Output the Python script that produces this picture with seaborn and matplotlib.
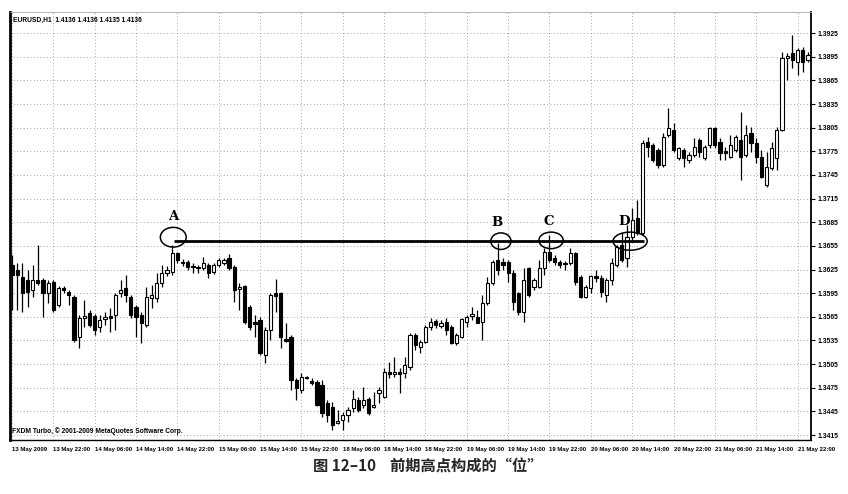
import numpy as np
import matplotlib
matplotlib.use("Agg")
import matplotlib.pyplot as plt
from matplotlib.patches import Ellipse
import seaborn as sns

# ---------------- data (EURUSD H1) ----------------
opens = [1.3631, 1.3624, 1.3616, 1.3612, 1.3599, 1.3612, 1.3612, 1.3595, 1.3609, 1.3580,
         1.3602, 1.3597, 1.3590, 1.3539, 1.3563, 1.3570, 1.3566, 1.3552, 1.3562, 1.3566,
         1.3567, 1.3595, 1.3602, 1.3590, 1.3577, 1.3567, 1.3555, 1.3589, 1.3589, 1.3608,
         1.3621, 1.3622, 1.3646, 1.3635, 1.3635, 1.3629, 1.3627, 1.3627, 1.3631, 1.3622,
         1.3631, 1.3633, 1.3640, 1.3628, 1.3600, 1.3604, 1.3577, 1.3558, 1.3561, 1.3517,
         1.3548, 1.3595, 1.3595, 1.3537, 1.3539, 1.3485, 1.3472, 1.3487, 1.3484, 1.3482,
         1.3478, 1.3456, 1.3451, 1.3430, 1.3434, 1.3440, 1.3449, 1.3459, 1.3453, 1.3461,
         1.3451, 1.3468, 1.3463, 1.3495, 1.3492, 1.3495, 1.3494, 1.3501, 1.3542, 1.3527,
         1.3533, 1.3552, 1.3560, 1.3553, 1.3558, 1.3552, 1.3532, 1.3539, 1.3558, 1.3566,
         1.3565, 1.3558, 1.3583, 1.3608, 1.3637, 1.3635, 1.3635, 1.3621, 1.3595, 1.3571,
         1.3627, 1.3603, 1.3603, 1.3627, 1.3647, 1.3640, 1.3635, 1.3633, 1.3633, 1.3646,
         1.3616, 1.3590, 1.3602, 1.3617, 1.3614, 1.3593, 1.3612, 1.3631, 1.3656, 1.3640,
         1.3666, 1.3690, 1.3671, 1.3787, 1.3783, 1.3777, 1.3758, 1.3796, 1.3802, 1.3767,
         1.3777, 1.3764, 1.3770, 1.3789, 1.3767, 1.3783, 1.3805, 1.3787, 1.3775, 1.3768,
         1.3777, 1.3789, 1.3770, 1.3798, 1.3786, 1.3768, 1.3732, 1.3754, 1.3767, 1.3802,
         1.3893, 1.3900, 1.3888, 1.3904, 1.3891]
highs = [1.3643, 1.3633, 1.3633, 1.3624, 1.3631, 1.3656, 1.3614, 1.3612, 1.3612, 1.3604,
         1.3604, 1.3599, 1.3593, 1.3567, 1.3586, 1.3574, 1.3569, 1.3567, 1.3571, 1.3576,
         1.3595, 1.3612, 1.3618, 1.3593, 1.3580, 1.3571, 1.3603, 1.3605, 1.3621, 1.3631,
         1.3629, 1.3656, 1.3647, 1.3638, 1.3637, 1.3633, 1.3631, 1.3641, 1.3633, 1.3633,
         1.3640, 1.3640, 1.3645, 1.3631, 1.3608, 1.3605, 1.3580, 1.3567, 1.3565, 1.3552,
         1.3595, 1.3613, 1.3597, 1.3557, 1.3542, 1.3487, 1.3494, 1.3490, 1.3487, 1.3485,
         1.3485, 1.3459, 1.3457, 1.3447, 1.3444, 1.3451, 1.3472, 1.3463, 1.3476, 1.3463,
         1.3470, 1.3476, 1.3500, 1.3508, 1.3514, 1.3500, 1.3514, 1.3544, 1.3544, 1.3536,
         1.3555, 1.3563, 1.3562, 1.3561, 1.3563, 1.3555, 1.3544, 1.3563, 1.3567, 1.3577,
         1.3574, 1.3593, 1.3616, 1.3637, 1.3659, 1.3640, 1.3637, 1.3624, 1.3597, 1.3627,
         1.3628, 1.3614, 1.3637, 1.3652, 1.3669, 1.3643, 1.3637, 1.3636, 1.3652, 1.3647,
         1.3618, 1.3605, 1.3618, 1.3624, 1.3618, 1.3614, 1.3640, 1.3656, 1.3671, 1.3682,
         1.3703, 1.3713, 1.3789, 1.3793, 1.3786, 1.3779, 1.3798, 1.3830, 1.3811, 1.3780,
         1.3779, 1.3774, 1.3792, 1.3792, 1.3783, 1.3806, 1.3806, 1.3792, 1.3780, 1.3796,
         1.3796, 1.3825, 1.3808, 1.3806, 1.3792, 1.3777, 1.3774, 1.3787, 1.3806, 1.3901,
         1.3900, 1.3923, 1.3906, 1.3907, 1.3901]
lows = [1.3574, 1.3574, 1.3571, 1.3577, 1.3590, 1.3605, 1.3565, 1.3583, 1.3571, 1.3577,
        1.3595, 1.3580, 1.3533, 1.3525, 1.3552, 1.3552, 1.3542, 1.3546, 1.3555, 1.3546,
        1.3548, 1.3590, 1.3584, 1.3563, 1.3539, 1.3532, 1.3552, 1.3576, 1.3584, 1.3603,
        1.3617, 1.3618, 1.3633, 1.3629, 1.3624, 1.3621, 1.3621, 1.3624, 1.3614, 1.3619,
        1.3628, 1.3631, 1.3624, 1.3584, 1.3574, 1.3556, 1.3548, 1.3539, 1.3517, 1.3506,
        1.3536, 1.3571, 1.3525, 1.3533, 1.3472, 1.3459, 1.3468, 1.3486, 1.3478, 1.3452,
        1.3438, 1.3431, 1.3421, 1.3429, 1.3421, 1.3431, 1.3444, 1.3444, 1.3449, 1.3440,
        1.3449, 1.3456, 1.3462, 1.3487, 1.3489, 1.3468, 1.3487, 1.3497, 1.3523, 1.3519,
        1.3532, 1.3548, 1.3551, 1.3551, 1.3542, 1.3530, 1.3529, 1.3538, 1.3552, 1.3561,
        1.3557, 1.3536, 1.3580, 1.3605, 1.3618, 1.3624, 1.3609, 1.3574, 1.3567, 1.3558,
        1.3590, 1.3599, 1.3602, 1.3618, 1.3635, 1.3631, 1.3627, 1.3624, 1.3631, 1.3605,
        1.3589, 1.3589, 1.3595, 1.3609, 1.3590, 1.3584, 1.3605, 1.3628, 1.3635, 1.3628,
        1.3662, 1.3669, 1.3669, 1.3768, 1.3761, 1.3754, 1.3755, 1.3793, 1.3774, 1.3764,
        1.3755, 1.3760, 1.3768, 1.3768, 1.3764, 1.3779, 1.3779, 1.3764, 1.3764, 1.3767,
        1.3774, 1.3739, 1.3768, 1.3774, 1.3760, 1.3741, 1.3730, 1.3751, 1.3751, 1.3801,
        1.3865, 1.3881, 1.3872, 1.3876, 1.3888]
closes = [1.3618, 1.3618, 1.3595, 1.3597, 1.3612, 1.3608, 1.3595, 1.3608, 1.3574, 1.3602,
          1.3599, 1.3593, 1.3536, 1.3563, 1.3566, 1.3555, 1.3548, 1.3561, 1.3565, 1.3563,
          1.3593, 1.3599, 1.3593, 1.3567, 1.3565, 1.3557, 1.3590, 1.3593, 1.3608, 1.3621,
          1.3624, 1.3646, 1.3637, 1.3633, 1.3628, 1.3628, 1.3628, 1.3633, 1.3621, 1.3631,
          1.3637, 1.3637, 1.3627, 1.3599, 1.3603, 1.3558, 1.3552, 1.3556, 1.3519, 1.3548,
          1.3593, 1.3591, 1.3539, 1.3534, 1.3485, 1.3475, 1.3489, 1.3489, 1.3481, 1.3453,
          1.3443, 1.3440, 1.3428, 1.3433, 1.3440, 1.3447, 1.3461, 1.3447, 1.3459, 1.3443,
          1.3453, 1.3472, 1.3495, 1.3492, 1.3495, 1.3492, 1.3504, 1.3542, 1.3529, 1.3533,
          1.3552, 1.3558, 1.3555, 1.3557, 1.3548, 1.3532, 1.3542, 1.3562, 1.3565, 1.3569,
          1.3557, 1.3583, 1.3608, 1.3635, 1.3624, 1.3631, 1.3621, 1.3584, 1.3571, 1.3612,
          1.3593, 1.3612, 1.3627, 1.3647, 1.3637, 1.3635, 1.3631, 1.3632, 1.3646, 1.3609,
          1.3590, 1.3603, 1.3617, 1.3614, 1.3597, 1.3612, 1.3633, 1.3654, 1.3637, 1.3666,
          1.3688, 1.3671, 1.3786, 1.3780, 1.3764, 1.3758, 1.3793, 1.3805, 1.3777, 1.3779,
          1.3767, 1.3770, 1.3780, 1.3774, 1.3780, 1.3805, 1.3783, 1.3773, 1.3773, 1.3783,
          1.3793, 1.3768, 1.3796, 1.3786, 1.3768, 1.3742, 1.3755, 1.3779, 1.3802, 1.3893,
          1.3896, 1.3891, 1.3904, 1.3888, 1.3897]

x_tick_bars = [0, 8, 16, 24, 32, 40, 48, 56, 64, 72, 80, 88, 96, 104, 112, 120, 128, 136, 144, 152]
x_tick_labels = ["13 May 2009", "13 May 22:00", "14 May 06:00", "14 May 14:00", "14 May 22:00",
                 "15 May 06:00", "15 May 14:00", "15 May 22:00", "18 May 06:00", "18 May 14:00",
                 "18 May 22:00", "19 May 06:00", "19 May 14:00", "19 May 22:00", "20 May 06:00",
                 "20 May 14:00", "20 May 22:00", "21 May 06:00", "21 May 14:00", "21 May 22:00"]
y_ticks = [1.3415, 1.3445, 1.3475, 1.3505, 1.3535, 1.3565, 1.3595, 1.3625, 1.3655,
           1.3685, 1.3715, 1.3745, 1.3775, 1.3805, 1.3835, 1.3865, 1.3895, 1.3925]

# previous-high level and its touch points
level_price = 1.3661
level_start_bar = 31.3
level_end_bar = 122.2
point_names = ["A", "B", "C", "D"]
point_bars = [31.2, 94.6, 104.3, 119.6]
point_prices = [1.3666, 1.3661, 1.3662, 1.3661]
ellipse_w = [5.0, 3.9, 4.7, 6.6]
ellipse_h = [0.0025, 0.0021, 0.0021, 0.0023]
label_dx_pts = [0, -3, -2, -4]

header = "EURUSD,H1  1.4136 1.4136 1.4135 1.4136"
footer = "FXDM Turbo, © 2001-2009 MetaQuotes Software Corp."
caption = "图 12–10    前期高点构成的“位”"

# ---------------- drawing ----------------
sns.set_theme(style="white")
plt.rcParams["font.family"] = ["Liberation Sans", "DejaVu Sans"]

W, H = 848, 494
fig = plt.figure(figsize=(W / 100, H / 100), dpi=100)
fig.patch.set_facecolor("white")
ax = fig.add_axes([10 / W, 1 - 440 / H, (811 - 10) / W, (440 - 12) / H])
ax.set_facecolor("white")

o = np.array(opens); h = np.array(highs); l = np.array(lows); c = np.array(closes)
x = np.arange(len(o))
up = c >= o
body_bot = np.minimum(o, c)
body_h = np.maximum(np.abs(c - o), 0.00005)

ax.vlines(x, l, h, color="black", lw=0.9, zorder=2)
ax.bar(x[up], body_h[up], bottom=body_bot[up], width=0.62, facecolor="white",
       edgecolor="black", linewidth=0.8, zorder=3)
ax.bar(x[~up], body_h[~up], bottom=body_bot[~up], width=0.62, facecolor="black",
       edgecolor="black", linewidth=0.8, zorder=3)

# level line
ax.hlines(level_price, level_start_bar, level_end_bar, color="black", lw=2.0, zorder=5)
for name, bx, py, ew, eh, dx in zip(point_names, point_bars, point_prices,
                                    ellipse_w, ellipse_h, label_dx_pts):
    ax.add_patch(Ellipse((bx, py), ew, eh, fill=False, edgecolor="black", lw=1.1, zorder=6))
    ax.annotate(name, (bx, py + eh / 2), xytext=(dx, 3), textcoords="offset points",
                ha="center", va="bottom", fontsize=9.5, fontweight="bold",
                family="DejaVu Serif", color="black", zorder=7)

ax.set_xlim(-0.39, 154.6)
ax.set_ylim(1.34087, 1.39518)

ax.set_yticks(y_ticks)
ax.set_yticklabels([f"{v:.4f}" for v in y_ticks], fontsize=4.9, fontweight="bold")
ax.yaxis.tick_right()
ax.set_xticks(x_tick_bars)
ax.set_xticklabels(x_tick_labels, fontsize=4.3, fontweight="bold", ha="left")
ax.tick_params(axis="x", length=3, width=0.8, pad=2, colors="black")
ax.tick_params(axis="y", length=3, width=0.8, pad=2, colors="black")

ax.grid(True, ls=(0, (1, 3)), color="#888888", lw=0.6)
ax.set_axisbelow(True)

ax.spines["left"].set_linewidth(2.0)
ax.spines["left"].set_color("black")
ax.spines["bottom"].set_linewidth(1.0)
ax.spines["bottom"].set_color("black")
ax.spines["right"].set_linewidth(1.3)
ax.spines["right"].set_color("black")
ax.spines["top"].set_linewidth(0.6)
ax.spines["top"].set_color("#aaaaaa")

ax.text(0.004, 0.988, header, transform=ax.transAxes, fontsize=4.8, fontweight="bold",
        ha="left", va="top", color="black")
ax.text(0.002, 0.012, footer, transform=ax.transAxes, fontsize=4.8, fontweight="bold",
        ha="left", va="bottom", color="black")

fig.text(428 / W, 1 - 467 / H, caption, ha="center", va="center", fontsize=11,
         fontweight="bold", family=["Noto Sans CJK SC", "DejaVu Sans"])

fig.savefig("out.png", dpi=100, facecolor="white")
